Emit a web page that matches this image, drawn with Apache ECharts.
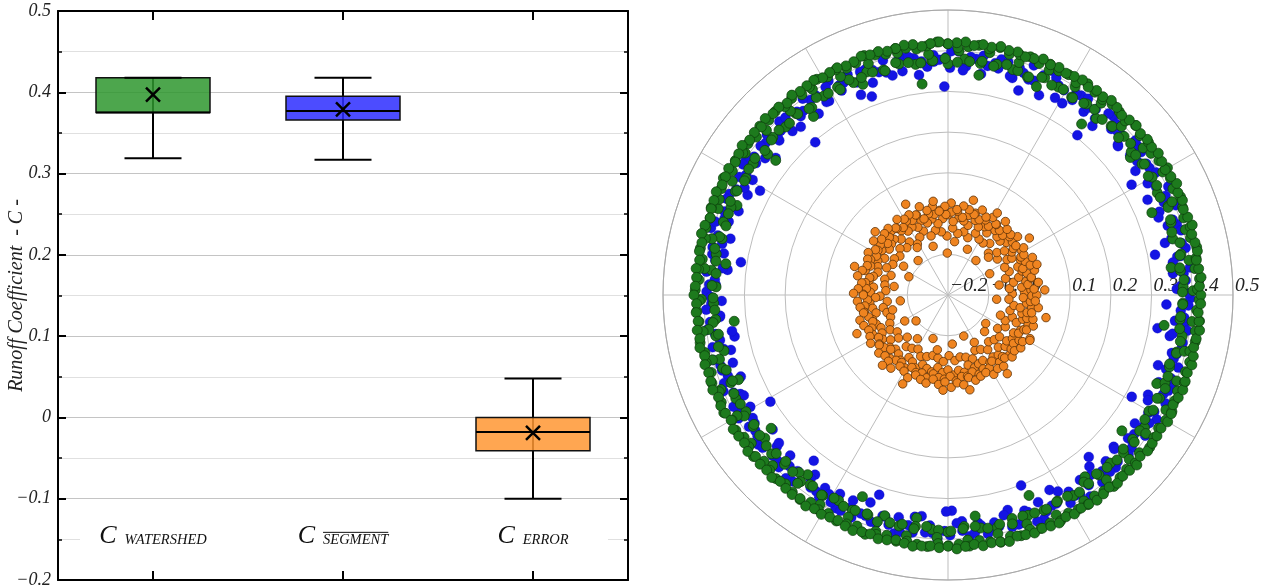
<!DOCTYPE html>
<html><head><meta charset="utf-8">
<script src="https://cdn.jsdelivr.net/npm/echarts@6/dist/echarts.min.js"></script>
<style>html,body{margin:0;padding:0;background:#fff}#c{width:1261px;height:587px}</style>
</head><body><div id="c"></div>
<script>
// ---------- Box plot data (left panel) ----------
const categories = ['WATERSHED', 'SEGMENT', 'ERROR'];
const boxMin  = [0.319, 0.317, -0.100];
const boxQ1   = [0.375, 0.366, -0.041];
const boxMed  = [0.375, 0.377, -0.018];
const boxQ3   = [0.418, 0.395,  0.000];
const boxMax  = [0.418, 0.418,  0.048];
const boxMean = [0.397, 0.379, -0.019];
const yTickLabels = ['\u22120.2', '\u22120.1', '0', '0.1', '0.2', '0.3', '0.4', '0.5'];
const labelValue = -0.15;

// ---------- Polar scatter data (right panel): radius values, in sequence order ----------
const greenOuter = [
0.421,0.418,0.423,0.419,0.416,0.422,0.420,0.417,0.424,0.419,
0.415,0.421,0.418,0.425,0.420,0.416,0.419,0.423,0.418,0.421,
0.417,0.422,0.419,0.414,0.420,0.424,0.418,0.421,0.416,0.423,
0.420,0.417,0.422,0.419,0.425,0.418,0.415,0.421,0.419,0.424,
0.418,0.421,0.416,0.423,0.420,0.417,0.422,0.419,0.414,0.421,
0.423,0.419,0.417,0.422,0.420,0.424,0.418,0.416,0.421,0.419,
0.416,0.422,0.420,0.418,0.423,0.415,0.421,0.419,0.424,0.417,
0.421,0.418,0.425,0.420,0.416,0.422,0.419,0.417,0.423,0.420,
0.419,0.414,0.421,0.424,0.418,0.420,0.416,0.422,0.419,0.421,
0.424,0.418,0.420,0.417,0.422,0.419,0.423,0.416,0.421,0.418,
0.420,0.423,0.417,0.421,0.419,0.415,0.422,0.420,0.418,0.424,
0.417,0.421,0.419,0.423,0.416,0.420,0.422,0.418,0.425,0.419,
0.422,0.418,0.416,0.421,0.424,0.419,0.417,0.423,0.420,0.415,
0.419,0.423,0.420,0.418,0.421,0.417,0.424,0.419,0.416,0.422,
0.418,0.420,0.424,0.416,0.419,0.422,0.418,0.421,0.423,0.417,
0.421,0.417,0.419,0.423,0.420,0.416,0.422,0.418,0.420,0.424,
0.416,0.422,0.420,0.419,0.417,0.423,0.421,0.415,0.419,0.422,
0.420,0.418,0.423,0.421,0.417,0.419,0.424,0.420,0.416,0.421];
const greenOuter2 = [
0.413,0.419,0.410,0.416,0.422,0.412,0.418,0.409,0.415,0.420,
0.411,0.417,0.423,0.414,0.408,0.419,0.413,0.421,0.410,0.416,
0.418,0.412,0.415,0.422,0.409,0.417,0.414,0.420,0.411,0.419,
0.416,0.410,0.421,0.413,0.418,0.412,0.408,0.417,0.422,0.414,
0.409,0.415,0.419,0.411,0.416,0.423,0.413,0.410,0.418,0.412,
0.420,0.414,0.409,0.417,0.412,0.419,0.415,0.421,0.410,0.416,
0.413,0.418,0.411,0.422,0.415,0.409,0.420,0.414,0.417,0.412,
0.419,0.410,0.416,0.413,0.421,0.411,0.418,0.415,0.408,0.420,
0.414,0.417,0.412,0.419,0.410,0.416,0.422,0.413,0.418,0.411,
0.415,0.421,0.409,0.414,0.418,0.412,0.417,0.420,0.411,0.416,
0.412,0.419,0.415,0.410,0.422,0.414,0.409,0.418,0.413,0.417,
0.420,0.411,0.416,0.413,0.419,0.408,0.415,0.421,0.412,0.418,
0.410,0.417,0.414,0.420,0.412,0.416,0.419,0.411,0.415,0.422,
0.416,0.413,0.418,0.409,0.421,0.415,0.412,0.417,0.420,0.414,
0.411,0.419,0.413,0.416,0.410,0.418,0.414,0.421,0.412,0.417];
const greenMid = [
0.402,0.398,0.405,0.396,0.408,0.400,0.394,0.403,0.399,0.406,
0.397,0.404,0.400,0.393,0.407,0.401,0.398,0.405,0.395,0.402,
0.408,0.399,0.403,0.396,0.401,0.406,0.394,0.400,0.404,0.397,
0.405,0.401,0.392,0.403,0.398,0.407,0.400,0.396,0.404,0.399,
0.395,0.402,0.406,0.398,0.401,0.393,0.405,0.400,0.397,0.403];
const greenMid2 = [
0.376,0.381,0.373,0.378,0.384,0.371,0.377,0.382,0.374,0.379,
0.372,0.380,0.375,0.383,0.370,0.378,0.374,0.381,0.377,0.373,
0.379,0.375,0.382,0.371,0.377,0.384,0.373,0.380,0.376,0.372,
0.381,0.377,0.374,0.379,0.385,0.372,0.378,0.375,0.382,0.370,
0.376,0.383,0.371,0.378,0.374,0.380,0.377,0.373,0.381,0.379,
0.373,0.378,0.382,0.375,0.371,0.379,0.384,0.376,0.372,0.380,
0.377,0.374,0.381,0.372,0.378,0.383,0.375,0.370,0.379,0.376,
0.382,0.373,0.377,0.380,0.374,0.371,0.378,0.384,0.375,0.381,
0.372,0.379,0.376,0.373,0.383,0.377,0.374,0.380,0.371,0.378,
0.380,0.375,0.372,0.381,0.377,0.384,0.373,0.376,0.379,0.374,
0.375,0.382,0.378,0.371,0.376,0.380,0.373,0.383,0.377,0.372,
0.378,0.373,0.381,0.376,0.370,0.379,0.382,0.375,0.374,0.377];
const greenInner = [
0.378,0.374,0.381,0.369,0.376,0.383,0.372,0.379,0.375,0.371,
0.382,0.377,0.366,0.380,0.373,0.378,0.384,0.370,0.376,0.379,
0.374,0.381,0.368,0.377,0.372,0.380,0.375,0.383,0.371,0.378,
0.376,0.369,0.382,0.374,0.379,0.362,0.377,0.373,0.381,0.375,
0.380,0.372,0.378,0.384,0.370,0.376,0.374,0.379,0.367,0.382,
0.375,0.380,0.373,0.377,0.371,0.383,0.378,0.369,0.376,0.381,
0.372,0.379,0.375,0.364,0.380,0.374,0.377,0.382,0.370,0.378,
0.383,0.371,0.376,0.379,0.373,0.381,0.368,0.377,0.374,0.380,
0.376,0.382,0.370,0.378,0.375,0.372,0.379,0.384,0.373,0.377];
const greenLow = [0.352,0.340,0.361,0.333,0.356,0.345,0.322,0.358,0.349,0.337,0.363,0.351,
0.329,0.355,0.344,0.360,0.338,0.353,0.347,0.331,0.359,0.342,0.357,0.336];
const blueA = [
0.391,0.385,0.398,0.379,0.388,0.394,0.382,0.401,0.387,0.376,
0.393,0.384,0.390,0.397,0.380,0.389,0.395,0.383,0.392,0.386,
0.378,0.396,0.388,0.402,0.385,0.391,0.381,0.394,0.387,0.399,
0.384,0.390,0.377,0.393,0.386,0.398,0.382,0.389,0.395,0.380,
0.392,0.387,0.400,0.383,0.391,0.376,0.394,0.388,0.385,0.397,
0.389,0.381,0.393,0.386,0.399,0.384,0.390,0.378,0.396,0.387,
0.383,0.395,0.388,0.380,0.392,0.398,0.385,0.391,0.379,0.394,
0.397,0.386,0.382,0.390,0.384,0.393,0.401,0.387,0.381,0.389,
0.385,0.392,0.396,0.379,0.388,0.383,0.394,0.390,0.386,0.399,
0.390,0.380,0.387,0.395,0.382,0.391,0.385,0.398,0.384,0.377,
0.393,0.388,0.381,0.396,0.389,0.384,0.392,0.379,0.395,0.386,
0.382,0.397,0.390,0.385,0.393,0.380,0.388,0.394,0.383,0.391];
const blueB = [
0.362,0.355,0.371,0.348,0.366,0.358,0.343,0.369,0.352,0.364,
0.357,0.372,0.346,0.360,0.368,0.351,0.339,0.365,0.356,0.370,
0.349,0.363,0.358,0.374,0.345,0.361,0.367,0.353,0.336,0.366,
0.359,0.347,0.369,0.355,0.362,0.341,0.372,0.357,0.350,0.364,
0.368,0.352,0.360,0.345,0.371,0.356,0.363,0.338,0.367,0.354,
0.347,0.365,0.358,0.370,0.343,0.361,0.353,0.369,0.349,0.362,
0.356,0.373,0.344,0.366,0.359,0.351,0.368,0.332,0.357,0.364,
0.370,0.348,0.362,0.355,0.340,0.367,0.358,0.346,0.363,0.352,
0.365,0.357,0.371,0.349,0.360,0.344,0.368,0.354,0.361,0.337];
const blueC = [
0.372,0.381,0.358,0.395,0.366,0.388,0.351,0.377,0.403,0.362,
0.385,0.369,0.392,0.355,0.379,0.398,0.364,0.374,0.389,0.348,
0.382,0.407,0.367,0.376,0.359,0.393,0.371,0.384,0.353,0.399,
0.378,0.363,0.387,0.396,0.356,0.373,0.390,0.368,0.381,0.402,
0.360,0.386,0.375,0.349,0.394,0.370,0.383,0.361,0.397,0.377,
0.365,0.391,0.354,0.380,0.405,0.369,0.387,0.357,0.374,0.393,
0.382,0.362,0.398,0.371,0.350,0.385,0.376,0.400,0.359,0.389,
0.367,0.379,0.394,0.352,0.384,0.373,0.396,0.363,0.381,0.370,
0.392,0.356,0.378,0.388,0.366,0.401,0.374,0.347,0.386,0.380,
0.361,0.395,0.372,0.384,0.358,0.390,0.368,0.399,0.377,0.353,
0.383,0.406,0.364,0.375,0.391,0.357,0.387,0.371,0.379,0.397,
0.355,0.382,0.393,0.366,0.376,0.389,0.360,0.385,0.373,0.395];
const blueLow = [0.318,0.326,0.305,0.331,0.312,0.322,0.297,0.328,0.315,0.334,0.309,0.324,
0.319,0.330,0.301,0.327,0.316,0.321];
const orangeA = [
0.018,0.012,0.024,0.009,0.021,0.015,0.027,0.011,0.019,0.006,
0.023,0.014,0.017,0.029,0.010,0.020,0.013,0.025,0.008,0.016,
0.022,0.011,0.026,0.018,0.007,0.021,0.014,0.028,0.012,0.019,
0.015,0.024,0.009,0.020,0.017,0.013,0.026,0.010,0.022,0.016,
0.011,0.019,0.027,0.014,0.021,0.008,0.023,0.018,0.012,0.025,
0.020,0.013,0.017,0.024,0.009,0.022,0.015,0.019,0.028,0.011,
0.016,0.026,0.012,0.018,0.023,0.010,0.021,0.014,0.027,0.017,
0.024,0.009,0.020,0.015,0.012,0.025,0.018,0.022,0.008,0.019,
0.013,0.021,0.016,0.028,0.011,0.023,0.017,0.010,0.024,0.015];
const orangeE = [
0.004,-0.002,0.009,0.001,-0.005,0.007,0.002,0.011,-0.003,0.005,
0.008,-0.001,0.003,0.010,-0.004,0.006,0.000,0.012,0.002,-0.006,
0.007,0.004,-0.002,0.009,0.001,0.005,-0.004,0.011,0.003,0.008,
-0.001,0.006,0.010,0.002,-0.005,0.007,0.004,0.000,0.009,0.003,
0.012,-0.003,0.005,0.001,0.008,-0.002,0.006,0.010,0.002,-0.004,
0.004,0.009,0.000,0.007,0.003,-0.006,0.011,0.005,0.001,0.008,
-0.001,0.006,0.002,0.010,-0.003,0.004,0.007,0.000,0.012,0.003,
0.005,-0.002,0.009,0.001,0.006,-0.005,0.008,0.002,0.011,0.004,
0.000,0.007,-0.003,0.005,0.010,0.002,-0.001,0.008,0.003,0.006];
const orangeB = [
-0.012,-0.018,-0.006,-0.021,-0.009,-0.015,-0.002,-0.019,-0.011,-0.024,
-0.007,-0.016,-0.013,-0.004,-0.020,-0.010,-0.017,-0.005,-0.022,-0.014,
-0.008,-0.019,-0.003,-0.012,-0.023,-0.009,-0.016,-0.006,-0.018,-0.011,
-0.015,-0.005,-0.021,-0.010,-0.013,-0.017,-0.004,-0.020,-0.008,-0.014,
-0.019,-0.011,-0.003,-0.016,-0.009,-0.022,-0.007,-0.012,-0.018,-0.005,
-0.010,-0.017,-0.013,-0.006,-0.021,-0.008,-0.015,-0.011,-0.002,-0.019,
-0.014,-0.004,-0.018,-0.012,-0.007,-0.020,-0.009,-0.016,-0.003,-0.013,
-0.006,-0.021,-0.010,-0.015,-0.018,-0.005,-0.012,-0.008,-0.022,-0.011,
-0.017,-0.009,-0.014,-0.002,-0.019,-0.007,-0.013,-0.020,-0.006,-0.015];
const orangeC = [
-0.042,-0.048,-0.036,-0.053,-0.039,-0.045,-0.031,-0.050,-0.041,-0.057,
-0.037,-0.046,-0.043,-0.034,-0.051,-0.040,-0.047,-0.035,-0.055,-0.044,
-0.038,-0.049,-0.032,-0.042,-0.054,-0.039,-0.046,-0.036,-0.048,-0.041,
-0.045,-0.035,-0.052,-0.040,-0.043,-0.047,-0.033,-0.050,-0.038,-0.044,
-0.049,-0.041,-0.034,-0.046,-0.039,-0.056,-0.037,-0.042,-0.048,-0.035,
-0.040,-0.047,-0.043,-0.036,-0.051,-0.038,-0.045,-0.041,-0.032,-0.049,
-0.044,-0.034,-0.048,-0.042,-0.037,-0.053,-0.039,-0.046,-0.033,-0.043,
-0.036,-0.050];
const orangeD = [
0.038,-0.072,0.031,-0.085,0.044,-0.064,-0.091,0.035,-0.078,0.041,
-0.068,-0.097,0.033,-0.075,0.046,-0.061,-0.088,0.037,-0.070,-0.094,
0.040,-0.066,0.032,-0.082,-0.059,0.043,-0.076,-0.099,0.036,-0.069,
0.045,-0.087,-0.063,0.034,-0.079,0.039,-0.092,-0.067,0.042,-0.073,
-0.084,0.030,-0.062,0.047,-0.080];

// ---------- styling ----------
const SERIF = '"Liberation Serif", "Times New Roman", serif';
const GRID = {left: 58, top: 11, width: 570, height: 569};
const boxFill = ['rgba(46,150,46,0.85)', 'rgba(45,45,255,0.85)', 'rgba(255,150,50,0.85)'];

// sequence -> angle (degrees) for each ring
function ring(vals, offset) {
  const step = 360 / vals.length;
  return vals.map((r, k) => [r, offset + k * step]);
}
function tickLabel(v) { return yTickLabels[Math.round((v + 0.2) * 10)] || ''; }

const chart = echarts.init(document.getElementById('c'));

function renderBox(params, api) {
  const i = api.value(0);
  const band = api.size([1, 0])[0];
  const bw = band * 0.6, cw = band * 0.3;
  const P = k => api.coord([i, api.value(k)]);
  const pMin = P(1), pQ1 = P(2), pMed = P(3), pQ3 = P(4), pMax = P(5), pMean = P(6);
  const x = pMin[0];
  const st = {stroke: '#000', lineWidth: 2};
  const m = 7;
  return {type: 'group', children: [
    {type: 'line', shape: {x1: x, y1: pMax[1], x2: x, y2: pMin[1]}, style: st},
    {type: 'rect', shape: {x: x - bw / 2, y: pQ3[1], width: bw, height: pQ1[1] - pQ3[1]},
     style: {fill: boxFill[i], stroke: '#111', lineWidth: 1.5}},
    {type: 'line', shape: {x1: x - bw / 2, y1: pMed[1], x2: x + bw / 2, y2: pMed[1]}, style: st},
    {type: 'line', shape: {x1: x - cw / 2, y1: pMin[1], x2: x + cw / 2, y2: pMin[1]}, style: st},
    {type: 'line', shape: {x1: x - cw / 2, y1: pMax[1], x2: x + cw / 2, y2: pMax[1]}, style: st},
    {type: 'line', shape: {x1: x - m, y1: pMean[1] - m, x2: x + m, y2: pMean[1] + m}, style: {stroke: '#000', lineWidth: 2.5}},
    {type: 'line', shape: {x1: x - m, y1: pMean[1] + m, x2: x + m, y2: pMean[1] - m}, style: {stroke: '#000', lineWidth: 2.5}}
  ]};
}

const yCommon = {
  type: 'value', min: -0.2, max: 0.5, interval: 0.1, gridIndex: 0,
  axisLine: {show: true, lineStyle: {color: '#000', width: 2}},
  axisTick: {show: true, inside: true, length: 8, lineStyle: {color: '#000', width: 2}},
  minorTick: {show: true, splitNumber: 2, length: 4, lineStyle: {color: '#000', width: 1.5}}
};
const xCommon = {
  type: 'category', data: categories, gridIndex: 0, z: 3,
  axisLine: {show: true, onZero: false, lineStyle: {color: '#000', width: 2}},
  axisTick: {show: true, inside: true, alignWithLabel: true, length: 9, lineStyle: {color: '#000', width: 2}},
  axisLabel: {show: false}, splitLine: {show: false}
};

const option = {
  animation: false,
  backgroundColor: '#fff',
  grid: [{left: GRID.left, top: GRID.top, width: GRID.width, height: GRID.height,
          containLabel: false, outerBoundsMode: 'none'}],
  xAxis: [
    Object.assign({}, xCommon, {position: 'bottom'}),
    Object.assign({}, xCommon, {position: 'top'})
  ],
  yAxis: [
    Object.assign({}, yCommon, {
      position: 'left',
      name: 'Runoff Coefficient  - C -', nameLocation: 'middle', nameGap: 31, nameMoveOverlap: false,
      nameTextStyle: {fontFamily: SERIF, fontStyle: 'italic', fontSize: 20, color: '#222'},
      axisLabel: {margin: 7, fontFamily: SERIF, fontStyle: 'italic', fontSize: 18, color: '#222', formatter: tickLabel},
      splitLine: {show: true, lineStyle: {color: '#c4c4c4', width: 1}},
      minorSplitLine: {show: true, lineStyle: {color: '#e0e0e0', width: 1}}
    }),
    Object.assign({}, yCommon, {
      position: 'right', axisLabel: {show: false}, splitLine: {show: false}
    })
  ],
  polar: {center: [948, 295], radius: [0, 285]},
  angleAxis: {
    type: 'value', min: 0, max: 360, interval: 30, startAngle: 0, clockwise: false,
    axisLine: {show: true, lineStyle: {color: '#a8a8a8', width: 1}},
    axisTick: {show: false}, axisLabel: {show: false},
    splitLine: {show: true, lineStyle: {color: '#bdbdbd', width: 1}}
  },
  radiusAxis: {
    type: 'value', min: -0.2, max: 0.5, interval: 0.1,
    axisLine: {show: false}, axisTick: {show: false},
    axisLabel: {show: true, margin: -1, align: 'left', verticalAlign: 'bottom', padding: [0, 0, 0, 2],
      fontFamily: SERIF, fontStyle: 'italic', fontSize: 19.5, color: '#222', formatter: tickLabel},
    splitLine: {show: true, lineStyle: {color: '#bdbdbd', width: 1}}
  },
  series: [
    {type: 'custom', xAxisIndex: 0, yAxisIndex: 0, renderItem: renderBox,
     encode: {x: 0, y: [1, 2, 3, 4, 5, 6]},
     data: categories.map((c, i) => [i, boxMin[i], boxQ1[i], boxMed[i], boxQ3[i], boxMax[i], boxMean[i]])},
    {type: 'scatter', coordinateSystem: 'polar', symbolSize: 8.5,
     itemStyle: {color: '#ef8420', borderColor: '#5e3208', borderWidth: 0.8, opacity: 1},
     data: [].concat(ring(orangeC, 1), ring(orangeB, 2), ring(orangeE, 3.5), ring(orangeA, 0), ring(orangeD, 3))},
    {type: 'scatter', coordinateSystem: 'polar', symbolSize: 10,
     itemStyle: {color: '#1414e4', borderColor: '#1010b0', borderWidth: 0.3, opacity: 1},
     data: [].concat(ring(blueLow, 11), ring(blueB, 1.5), ring(blueC, 2.2), ring(blueA, 0.5))},
    {type: 'scatter', coordinateSystem: 'polar', symbolSize: 10,
     itemStyle: {color: '#1d7a1d', borderColor: '#0b3c0b', borderWidth: 0.7, opacity: 1},
     data: [].concat(ring(greenLow, 7), ring(greenInner, 2), ring(greenMid2, 0.7), ring(greenMid, 1),
                     ring(greenOuter2, 1.3), ring(greenOuter, 0))}
  ]
};
chart.setOption(option);

// ---------- category labels inside the plot ----------
const mctx = document.createElement('canvas').getContext('2d');
function tw(font, s) { mctx.font = font; return mctx.measureText(s).width; }
const fC = 'italic 26px ' + SERIF, fS = 'italic 14.5px ' + SERIF;
const els = [];
const yBand = chart.convertToPixel({xAxisIndex: 0, yAxisIndex: 0}, [0, labelValue])[1];
els.push({type: 'rect', z: 100, shape: {x: GRID.left + 22, y: yBand - 13, width: GRID.width - 42, height: 26},
          style: {fill: '#fff'}, silent: true});
categories.forEach((sub, i) => {
  const p = chart.convertToPixel({xAxisIndex: 0, yAxisIndex: 0}, [i, labelValue]);
  const wC = tw(fC, 'C'), wS = tw(fS, sub), gap = 8;
  const left = p[0] - (wC + gap + wS) / 2;
  els.push({type: 'text', z: 101, x: left, y: p[1] - 3,
            style: {text: 'C', font: fC, fill: '#111', align: 'left', verticalAlign: 'middle'}});
  els.push({type: 'text', z: 101, x: left + wC + gap, y: p[1] + 1,
            style: {text: sub, font: fS, fill: '#111', align: 'left', verticalAlign: 'middle'}});
  if (i === 1) {
    els.push({type: 'line', z: 101, shape: {x1: left + wC + gap, y1: p[1] - 7, x2: left + wC + gap + wS, y2: p[1] - 7},
              style: {stroke: '#111', lineWidth: 1}});
  }
});
chart.setOption({graphic: {elements: els}});
</script>
</body></html>
